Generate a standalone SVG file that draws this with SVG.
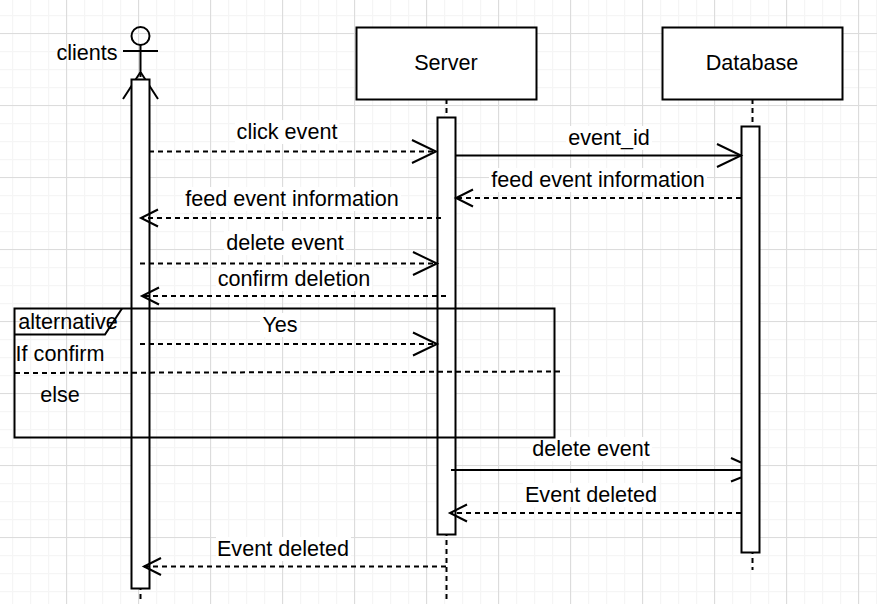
<svg xmlns="http://www.w3.org/2000/svg" width="877" height="604" viewBox="0 0 877 604">
<style>
text{font-family:"Liberation Sans",Arial,sans-serif;font-size:21.6px;fill:#000;text-anchor:middle}
.l{stroke:#000;stroke-width:2;fill:none}
.d{stroke:#000;stroke-width:2;fill:none;stroke-dasharray:5 4}
.box{stroke:#000;stroke-width:2;fill:#fff}
.bg{fill:#fff}
</style>
<defs>
<pattern id="minor" width="18" height="18" patternUnits="userSpaceOnUse" x="-6" y="-3"><path d="M0.500 0V18M0 0.500H18" stroke="#f5f5f5" stroke-width="1.500" fill="none"/></pattern>
<pattern id="major" width="72" height="72" patternUnits="userSpaceOnUse" x="-6" y="-39"><path d="M0.500 0V72M0 0.500H72" stroke="#dcdcdc" stroke-width="1.200" fill="none"/></pattern>
<marker id="big" markerUnits="userSpaceOnUse" markerWidth="30" markerHeight="30" refX="26" refY="13" orient="auto"><path d="M2 1.500L26 13L2 24.500" fill="none" stroke="#000" stroke-width="2"/></marker>
<marker id="small" markerUnits="userSpaceOnUse" markerWidth="24" markerHeight="24" refX="19" refY="10" orient="auto"><path d="M2 1.500L19 10L2 18.500" fill="none" stroke="#000" stroke-width="2"/></marker>
</defs>
<rect width="877" height="604" fill="#fff"/>
<rect width="877" height="604" fill="url(#minor)"/>
<rect width="877" height="604" fill="url(#major)"/>
<g id="labels-bg">
<rect class="bg" x="235" y="120" width="104" height="24"/>
<rect class="bg" x="566" y="126" width="86" height="24"/>
<rect class="bg" x="489" y="168" width="218" height="24"/>
<rect class="bg" x="183" y="187" width="218" height="24"/>
<rect class="bg" x="224" y="231" width="122" height="24"/>
<rect class="bg" x="216" y="267" width="156" height="24"/>
<rect class="bg" x="260" y="313" width="40" height="24"/>
<rect class="bg" x="530" y="437" width="122" height="24"/>
<rect class="bg" x="523" y="483" width="136" height="24"/>
<rect class="bg" x="216" y="537" width="135" height="24"/>
</g>
<g id="clients">
<text x="87" y="60">clients</text>
<circle class="l" cx="140.500" cy="36" r="9"/>
<path class="l" d="M140.500 45V72M123 51H158M123 99L140.500 72L158 99"/>
<path class="d" d="M140.500 72V601"/>
<rect class="box" x="131.500" y="79.500" width="18" height="509"/>
</g>
<g id="server">
<path class="d" d="M446.500 99V603"/>
<rect class="box" x="356.500" y="27.500" width="180" height="72"/>
<text x="446" y="70">Server</text>
<rect class="box" x="437.500" y="117.500" width="18" height="417"/>
</g>
<g id="database">
<path class="d" d="M752.500 99V570"/>
<rect class="box" x="662.500" y="27.500" width="180" height="72"/>
<text x="752" y="70">Database</text>
<rect class="box" x="741.500" y="126.500" width="18" height="426"/>
</g>
<g id="connectors">
<path class="d" d="M149 151.500H436" marker-end="url(#big)"/>
<path class="l" d="M455 155.500H741" marker-end="url(#big)"/>
<path class="d" d="M741 198H456" marker-end="url(#small)"/>
<path class="d" d="M441 218H141" marker-end="url(#small)"/>
<path class="d" d="M140 263.500H437" marker-end="url(#big)"/>
<path class="d" d="M446 296H142" marker-end="url(#small)"/>
<path class="d" d="M140 344H437" marker-end="url(#big)"/>
<path class="d" d="M741 513H450" marker-end="url(#small)"/>
<path class="d" d="M446 566.500H144" marker-end="url(#small)"/>
<path class="l" d="M451 470H741"/>
<path class="l" d="M731 458L741 462.500M731 481.500L741 477.500"/>
</g>
<g id="alternative">
<rect x="14.500" y="308.500" width="540" height="129" fill="none" stroke="#000" stroke-width="2"/>
<path class="l" d="M14.500 334.500H105L122 308.500"/>
<text x="68" y="329">alternative</text>
<text x="60" y="361">If confirm</text>
<text x="60" y="402">else</text>
<path class="d" d="M15 373L560 371.500"/>
</g>
<g id="message-labels">
<text x="287" y="139">click event</text>
<text x="609" y="145">event_id</text>
<text x="598" y="187">feed event information</text>
<text x="292" y="206">feed event information</text>
<text x="285" y="250">delete event</text>
<text x="294" y="286">confirm deletion</text>
<text x="280" y="332">Yes</text>
<text x="591" y="456">delete event</text>
<text x="591" y="502">Event deleted</text>
<text x="283" y="556">Event deleted</text>
</g>
</svg>
